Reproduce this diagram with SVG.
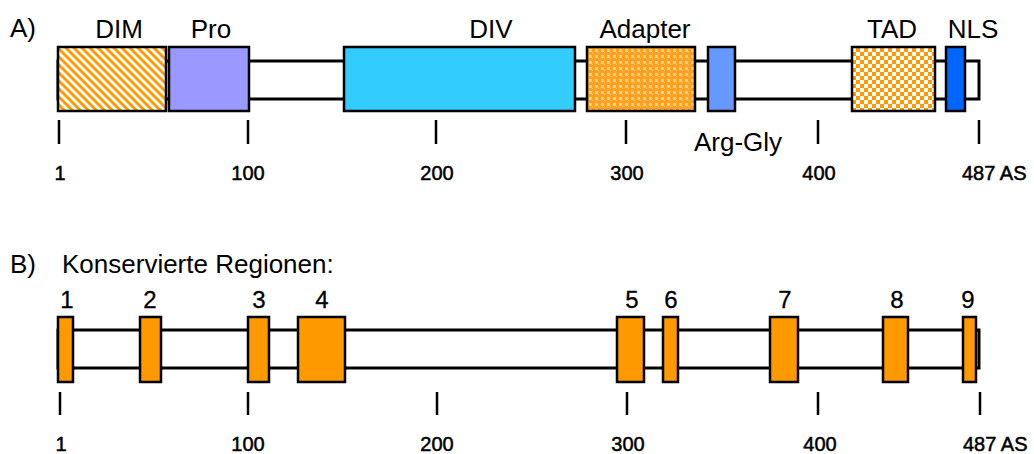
<svg xmlns="http://www.w3.org/2000/svg" width="1034" height="454" viewBox="0 0 1034 454">
<style>
text{font-family:"Liberation Sans",Arial,sans-serif;fill:#000}
.lbl{font-size:26px;text-anchor:middle}
.hdr{font-size:26px}
.num{font-size:24px;text-anchor:middle;stroke:#000;stroke-width:0.3}
.tk{font-size:20px;text-anchor:middle;stroke:#000;stroke-width:0.5}
.bb{fill:#fff;stroke:#000;stroke-width:3}
.box{stroke:#000;stroke-width:2.5}
.tick{stroke:#000;stroke-width:2.5}
.cr{fill:#FF9900;stroke:#000;stroke-width:2.5}
</style>
<defs>
<pattern id="stripes" width="5.66" height="5.66" patternUnits="userSpaceOnUse" patternTransform="rotate(-45)">
<rect width="5.66" height="5.66" fill="#fff"/>
<rect width="2.9" height="5.66" fill="#FF9900"/>
</pattern>
<pattern id="dots" width="6" height="6" patternUnits="userSpaceOnUse">
<rect width="6" height="6" fill="#FFA020"/>
<rect x="1" y="1" width="3" height="3" fill="#FFD080"/>
<rect x="4" y="4" width="1" height="1" fill="#FFC870"/>
</pattern>
<pattern id="checker" width="8" height="8" patternUnits="userSpaceOnUse">
<rect width="8" height="8" fill="#fff"/>
<rect width="4" height="4" fill="#FF9900"/>
<rect x="4" y="4" width="4" height="4" fill="#FF9900"/>
</pattern>
</defs>

<g id="sectionA">
<text class="hdr" x="10" y="37">A)</text>
<rect id="backboneA" class="bb" x="58" y="61" width="921" height="38"/>
<g id="DIM"><rect class="box" x="58" y="47" width="108" height="64" fill="url(#stripes)"/><text class="lbl" x="119" y="38">DIM</text></g>
<g id="Pro"><rect class="box" x="169" y="47" width="80" height="64" fill="#9999FF"/><text class="lbl" x="211" y="38">Pro</text></g>
<g id="DIV"><rect class="box" x="344" y="47" width="231" height="64" fill="#33CCFF"/><text class="lbl" x="491" y="38">DIV</text></g>
<g id="Adapter"><rect class="box" x="587" y="47" width="108" height="64" fill="url(#dots)"/><text class="lbl" x="645" y="38">Adapter</text></g>
<g id="ArgGly"><rect class="box" x="708" y="47" width="27" height="64" fill="#6699FF"/><text class="lbl" x="738" y="151">Arg-Gly</text></g>
<g id="TAD"><rect class="box" x="852" y="47" width="83" height="64" fill="url(#checker)"/><text class="lbl" x="892" y="38">TAD</text></g>
<g id="NLS"><rect class="box" x="946" y="47" width="19" height="64" fill="#0066FF"/><text class="lbl" x="973" y="38">NLS</text></g>
<g id="scaleA">
<line class="tick" x1="59" y1="120" x2="59" y2="144"/>
<line class="tick" x1="248" y1="120" x2="248" y2="144"/>
<line class="tick" x1="436" y1="120" x2="436" y2="144"/>
<line class="tick" x1="626" y1="120" x2="626" y2="144"/>
<line class="tick" x1="818" y1="120" x2="818" y2="144"/>
<line class="tick" x1="979" y1="120" x2="979" y2="144"/>
<text class="tk" x="60" y="180">1</text>
<text class="tk" x="248" y="180">100</text>
<text class="tk" x="437" y="180">200</text>
<text class="tk" x="627" y="180">300</text>
<text class="tk" x="819" y="180">400</text>
<text class="tk" x="962" y="180" style="text-anchor:start">487 AS</text>
</g>
</g>

<g id="sectionB">
<text class="hdr" x="10" y="273">B)</text>
<text class="hdr" x="62" y="273">Konservierte Regionen:</text>
<rect id="backboneB" class="bb" x="58" y="330" width="921" height="38"/>
<g id="cr1"><rect class="cr" x="58" y="317" width="15" height="65"/><text class="num" x="67" y="308">1</text></g>
<g id="cr2"><rect class="cr" x="140" y="317" width="21" height="65"/><text class="num" x="150" y="308">2</text></g>
<g id="cr3"><rect class="cr" x="248" y="317" width="21" height="65"/><text class="num" x="259" y="308">3</text></g>
<g id="cr4"><rect class="cr" x="298" y="317" width="47" height="65"/><text class="num" x="322" y="308">4</text></g>
<g id="cr5"><rect class="cr" x="617" y="317" width="27" height="65"/><text class="num" x="632" y="308">5</text></g>
<g id="cr6"><rect class="cr" x="663" y="317" width="15" height="65"/><text class="num" x="671" y="308">6</text></g>
<g id="cr7"><rect class="cr" x="770" y="317" width="28" height="65"/><text class="num" x="785" y="308">7</text></g>
<g id="cr8"><rect class="cr" x="883" y="317" width="25" height="65"/><text class="num" x="897" y="308">8</text></g>
<g id="cr9"><rect class="cr" x="963" y="317" width="13" height="65"/><text class="num" x="968" y="308">9</text></g>
<g id="scaleB">
<line class="tick" x1="60" y1="392" x2="60" y2="415"/>
<line class="tick" x1="248" y1="392" x2="248" y2="415"/>
<line class="tick" x1="437" y1="392" x2="437" y2="415"/>
<line class="tick" x1="627" y1="392" x2="627" y2="415"/>
<line class="tick" x1="818" y1="392" x2="818" y2="415"/>
<line class="tick" x1="980" y1="392" x2="980" y2="415"/>
<text class="tk" x="61" y="451">1</text>
<text class="tk" x="248" y="451">100</text>
<text class="tk" x="437" y="451">200</text>
<text class="tk" x="628" y="451">300</text>
<text class="tk" x="820" y="451">400</text>
<text class="tk" x="963" y="451" style="text-anchor:start">487 AS</text>
</g>
</g>
</svg>
